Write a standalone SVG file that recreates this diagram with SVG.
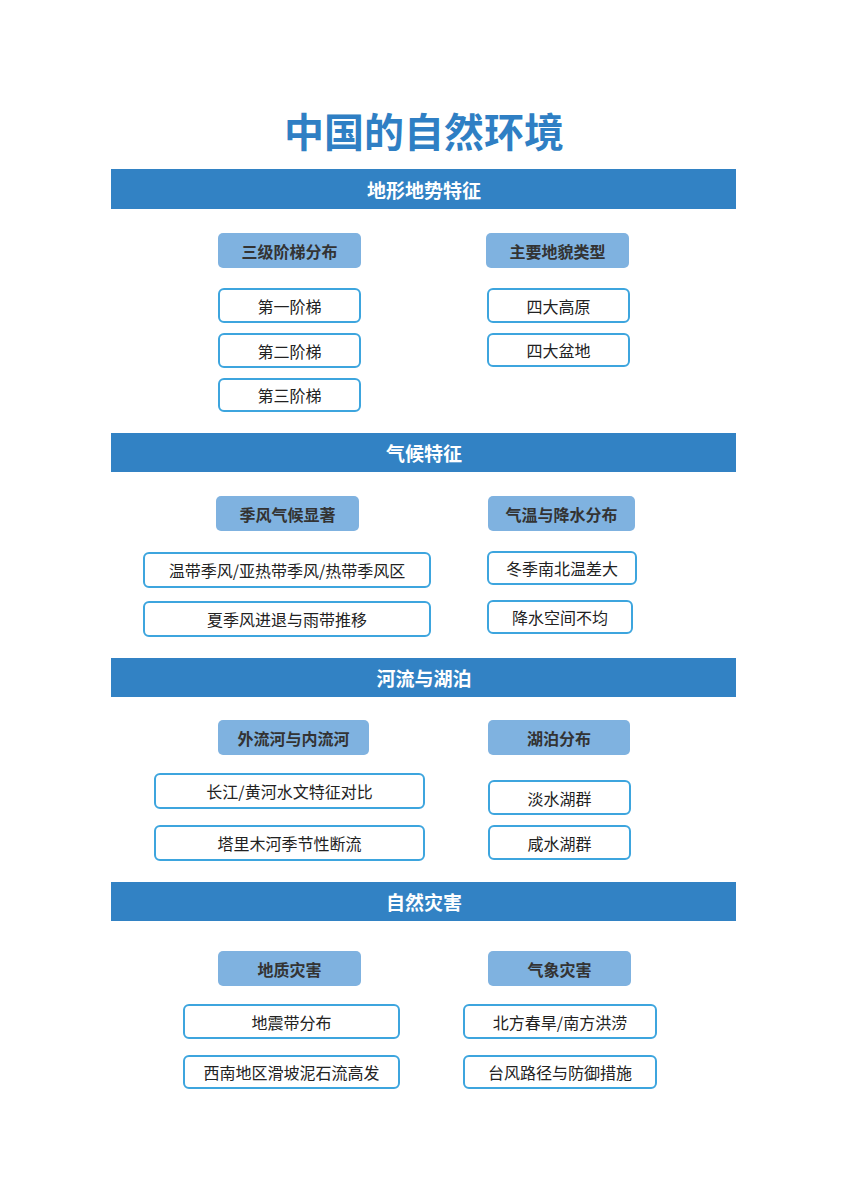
<svg xmlns="http://www.w3.org/2000/svg" width="848" height="1200" viewBox="0 0 848 1200">
<style>
text{font-family:"Noto Sans CJK SC","Noto Sans",sans-serif;text-anchor:middle;dominant-baseline:central}
.t{font-size:40px;font-weight:bold;fill:#2F7FC4}
.b rect{fill:#3282C4}.b text{fill:#fff;font-size:19px;font-weight:bold}
.h rect{fill:#7FB2E0}.h text{fill:#333;font-size:16px;font-weight:bold}
.i rect{fill:#fff;stroke:#3DA5DE;stroke-width:2}.i text{fill:#222;font-size:16px}
</style>
<rect width="848" height="1200" fill="#fff"/>
<text class="t" x="424" y="130">中国的自然环境</text>
<g id="s1" class="b"><rect x="111" y="169" width="625" height="40"/><text x="424" y="189">地形地势特征</text></g>
<g id="h1" class="h"><rect x="218" y="233" width="143" height="35" rx="5"/><text x="289.5" y="250.5">三级阶梯分布</text></g>
<g id="h2" class="h"><rect x="486" y="233" width="143" height="35" rx="5"/><text x="557.5" y="250.5">主要地貌类型</text></g>
<g id="n1" class="i"><rect x="219" y="289" width="141" height="33" rx="5"/><text x="289.5" y="305.5">第一阶梯</text></g>
<g id="n2" class="i"><rect x="219" y="334" width="141" height="33" rx="5"/><text x="289.5" y="350.5">第二阶梯</text></g>
<g id="n3" class="i"><rect x="219" y="379" width="141" height="32" rx="5"/><text x="289.5" y="395">第三阶梯</text></g>
<g id="n4" class="i"><rect x="488" y="289" width="141" height="33" rx="5"/><text x="558.5" y="305.5">四大高原</text></g>
<g id="n5" class="i"><rect x="488" y="334" width="141" height="32" rx="5"/><text x="558.5" y="350">四大盆地</text></g>

<g id="s2" class="b"><rect x="111" y="433" width="625" height="39"/><text x="424" y="452.5">气候特征</text></g>
<g id="h3" class="h"><rect x="216" y="496" width="143" height="35" rx="5"/><text x="287.5" y="513.5">季风气候显著</text></g>
<g id="h4" class="h"><rect x="488" y="496" width="147" height="35" rx="5"/><text x="561.5" y="513.5">气温与降水分布</text></g>
<g id="n6" class="i"><rect x="144" y="553" width="286" height="34" rx="5"/><text x="287" y="570">温带季风/亚热带季风/热带季风区</text></g>
<g id="n7" class="i"><rect x="144" y="602" width="286" height="34" rx="5"/><text x="287" y="619">夏季风进退与雨带推移</text></g>
<g id="n8" class="i"><rect x="488" y="552" width="148" height="32" rx="5"/><text x="562" y="568">冬季南北温差大</text></g>
<g id="n9" class="i"><rect x="488" y="601" width="144" height="32" rx="5"/><text x="560" y="617">降水空间不均</text></g>

<g id="s3" class="b"><rect x="111" y="658" width="625" height="39"/><text x="424" y="677.5">河流与湖泊</text></g>
<g id="h5" class="h"><rect x="218" y="720" width="151" height="35" rx="5"/><text x="293.5" y="737.5">外流河与内流河</text></g>
<g id="h6" class="h"><rect x="488" y="720" width="142" height="35" rx="5"/><text x="559" y="737.5">湖泊分布</text></g>
<g id="n10" class="i"><rect x="155" y="774" width="269" height="34" rx="5"/><text x="289.5" y="791">长江/黄河水文特征对比</text></g>
<g id="n11" class="i"><rect x="155" y="826" width="269" height="34" rx="5"/><text x="289.5" y="843">塔里木河季节性断流</text></g>
<g id="n12" class="i"><rect x="489" y="781" width="141" height="33" rx="5"/><text x="559.5" y="797.5">淡水湖群</text></g>
<g id="n13" class="i"><rect x="489" y="826" width="141" height="33" rx="5"/><text x="559.5" y="842.5">咸水湖群</text></g>

<g id="s4" class="b"><rect x="111" y="882" width="625" height="39"/><text x="424" y="901.5">自然灾害</text></g>
<g id="h7" class="h"><rect x="218" y="951" width="143" height="35" rx="5"/><text x="289.5" y="968.5">地质灾害</text></g>
<g id="h8" class="h"><rect x="488" y="951" width="143" height="35" rx="5"/><text x="559.5" y="968.5">气象灾害</text></g>
<g id="n14" class="i"><rect x="184" y="1005" width="215" height="33" rx="5"/><text x="291.5" y="1021.5">地震带分布</text></g>
<g id="n15" class="i"><rect x="184" y="1056" width="215" height="32" rx="5"/><text x="291.5" y="1072">西南地区滑坡泥石流高发</text></g>
<g id="n16" class="i"><rect x="464" y="1005" width="192" height="33" rx="5"/><text x="560" y="1021.5">北方春旱/南方洪涝</text></g>
<g id="n17" class="i"><rect x="464" y="1056" width="192" height="32" rx="5"/><text x="560" y="1072">台风路径与防御措施</text></g>
<g id="connectors"/>
</svg>
